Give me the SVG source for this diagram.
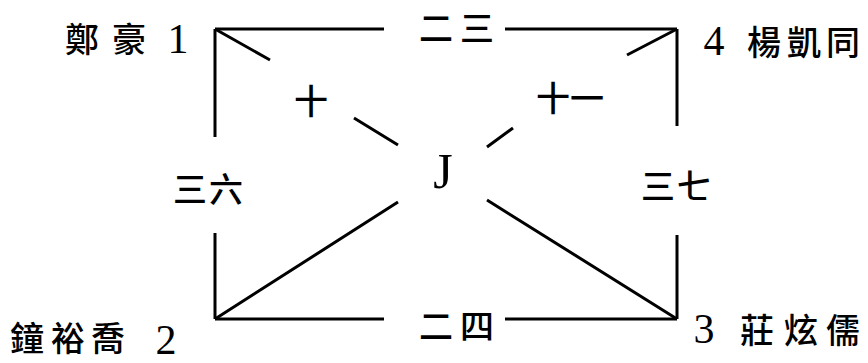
<svg xmlns="http://www.w3.org/2000/svg" width="868" height="363" viewBox="0 0 868 363">
<style>
.cjk{font-family:"Noto Sans CJK TC","Noto Sans CJK SC",sans-serif;font-size:34px;font-weight:500;fill:#000;text-anchor:middle}
.num{font-family:"Liberation Serif",serif;font-size:42px;fill:#000;text-anchor:middle}
.ln{stroke:#000;stroke-width:3;fill:none;stroke-linecap:butt}
</style>
<rect width="868" height="363" fill="#fff"/>
<g id="connectors">
  <path class="ln" d="M215,29H384M505,29H677"/>
  <path class="ln" d="M215,319H384M505,319H677"/>
  <path class="ln" d="M215,29V137M215,233V319"/>
  <path class="ln" d="M677,29V126M677,235V319"/>
  <path class="ln" d="M215,29L270,60M354,118L398,145M487,200L677,319"/>
  <path class="ln" d="M677,29L627,55M513,128L487,147M398,202L215,319"/>
  <g id="labels">
    <text class="cjk" y="41"><tspan x="436">二</tspan><tspan x="477">三</tspan></text>
    <text class="cjk" y="339"><tspan x="436">二</tspan><tspan x="477">四</tspan></text>
    <text class="cjk" y="202"><tspan x="190">三</tspan><tspan x="226">六</tspan></text>
    <text class="cjk" y="199"><tspan x="658">三</tspan><tspan x="694">七</tspan></text>
    <text class="cjk" y="114" x="311">十</text>
    <text class="cjk" y="111"><tspan x="553">十</tspan><tspan x="587">一</tspan></text>
  </g>
</g>
<g id="n1">
  <text class="cjk" y="52"><tspan x="82">鄭</tspan><tspan x="129">豪</tspan></text>
  <text class="num" x="178" y="53">1</text>
</g>
<g id="n4">
  <text class="num" x="714" y="55">4</text>
  <text class="cjk" y="55"><tspan x="764">楊</tspan><tspan x="804">凱</tspan><tspan x="843">同</tspan></text>
</g>
<g id="n2">
  <text class="cjk" y="351"><tspan x="27">鐘</tspan><tspan x="68">裕</tspan><tspan x="108">喬</tspan></text>
  <text class="num" x="166" y="354">2</text>
</g>
<g id="n3">
  <text class="num" x="704" y="343">3</text>
  <text class="cjk" y="343"><tspan x="757">莊</tspan><tspan x="801">炫</tspan><tspan x="843">儒</tspan></text>
</g>
<g id="nJ">
  <text class="num" x="443" y="188" style="font-size:50px">J</text>
</g>
</svg>
